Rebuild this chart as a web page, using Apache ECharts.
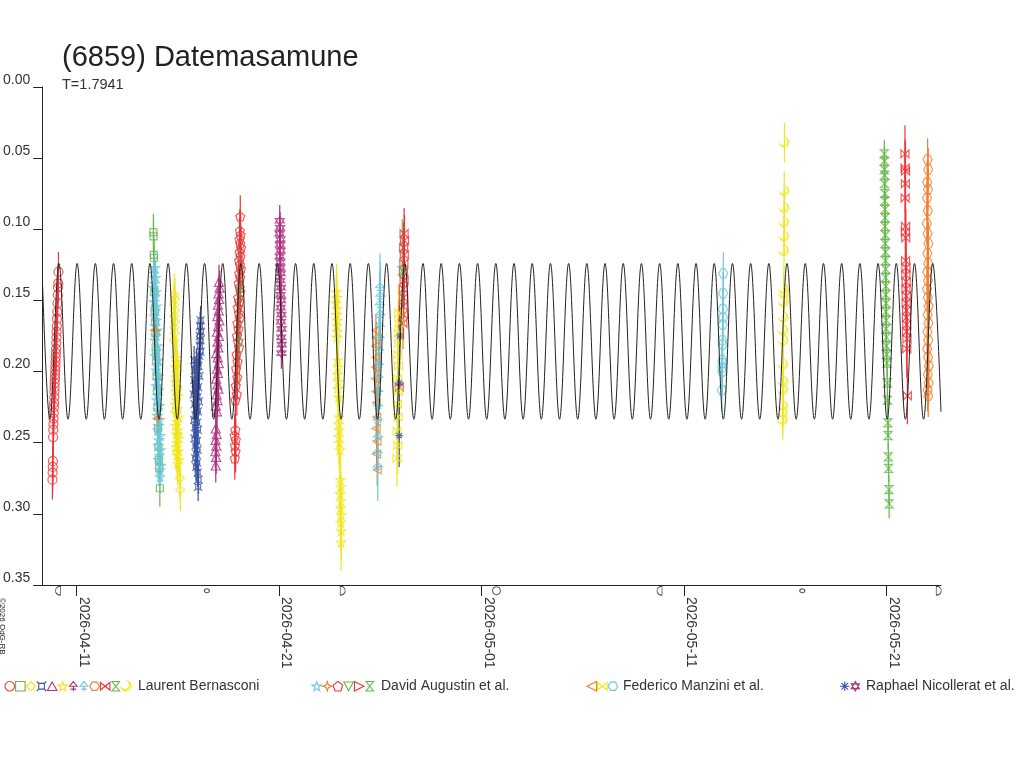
<!DOCTYPE html>
<html>
<head>
<meta charset="utf-8">
<title>(6859) Datemasamune</title>
<script src="https://cdn.jsdelivr.net/npm/echarts@6/dist/echarts.min.js"></script>
<style>
  html, body { margin: 0; padding: 0; background: #fff; }
  #chart { width: 1024px; height: 768px; }
</style>
</head>
<body>
<div id="chart"></div>
<script>
// days are counted from 2026-04-11 00:00, values are relative magnitudes
var tickDays = [0, 10, 20, 30, 40];
var tickLabels = ['2026-04-11', '2026-04-21', '2026-05-01', '2026-05-11', '2026-05-21'];

// fitted curve (extremes)
var curveTop = 0.124;
var curveBottom = 0.2335;
var curveStart = [-1.677, 0.1405];
var curveEnd = [42.68, 0.2283];
var curvePeaks = [-0.873, 0.026, 0.925, 1.823, 2.722, 3.621, 4.520, 5.419, 6.318, 7.216,
    8.115, 9.014, 9.913, 10.811, 11.710, 12.609, 13.508, 14.407, 15.305, 16.204,
    17.103, 18.002, 18.901, 19.799, 20.698, 21.597, 22.496, 23.395, 24.293, 25.192,
    26.091, 26.990, 27.889, 28.787, 29.686, 30.585, 31.484, 32.383, 33.281, 34.180,
    35.079, 35.978, 36.877, 37.775, 38.674, 39.573, 40.472, 41.371, 42.269];
var curveTroughs = [-1.322, -0.424, 0.475, 1.374, 2.272, 3.171, 4.070, 4.969, 5.868, 6.767,
    7.665, 8.564, 9.463, 10.362, 11.260, 12.159, 13.058, 13.957, 14.856, 15.754,
    16.653, 17.552, 18.451, 19.350, 20.248, 21.147, 22.046, 22.945, 23.844, 24.742,
    25.641, 26.540, 27.439, 28.338, 29.236, 30.135, 31.034, 31.933, 32.832, 33.730,
    34.629, 35.528, 36.427, 37.326, 38.224, 39.123, 40.022, 40.921, 41.820];

// moon phases under the axis
var moonDays = [-0.92, 6.43, 13.14, 20.73, 28.78, 35.83, 42.57];
var moonPhases = ['lq', 'new', 'fq', 'full', 'lq', 'new', 'fq'];

// observations [day, mag]
var lbCircle1 = [[-0.898,0.130],[-0.905,0.138],[-0.923,0.141],[-0.930,0.146],[-0.947,0.152],[-0.955,0.158],
    [-0.972,0.163],[-0.980,0.168],[-0.990,0.172],[-0.997,0.176],[-1.005,0.180],[-1.013,0.184],[-1.021,0.187],
    [-1.030,0.190],[-1.038,0.193],[-1.046,0.196],[-1.055,0.199],[-1.063,0.202],[-1.071,0.205],[-1.080,0.208],
    [-1.088,0.211],[-1.095,0.214],[-1.103,0.218],[-1.112,0.222],[-1.120,0.225],[-1.128,0.229],[-1.137,0.233],
    [-1.145,0.237],[-1.153,0.241],[-1.160,0.246],[-1.170,0.263],[-1.178,0.267],[-1.186,0.271],[-1.194,0.276]];
var lbSquare1 = [[3.79,0.102],[3.80,0.105],[3.81,0.118],[3.82,0.120],[3.84,0.144],[3.86,0.157],[3.88,0.165],
    [3.89,0.173],[3.91,0.185],[3.93,0.192],[3.95,0.203],[3.97,0.213],[3.99,0.225],[4.02,0.240],[4.04,0.253],
    [4.06,0.262],[4.08,0.268],[4.11,0.282]];
var daStar1 = [[3.86,0.127],[3.82,0.131],[3.90,0.134],[3.85,0.138],[3.80,0.141],[3.92,0.144],[3.87,0.147],
    [3.83,0.151],[3.95,0.154],[3.89,0.157],[3.84,0.161],[3.93,0.164],[3.88,0.168],[3.97,0.171],[3.91,0.175],
    [3.86,0.178],[3.99,0.182],[3.94,0.185],[3.89,0.189],[4.02,0.192],[3.96,0.196],[3.92,0.199],[4.04,0.203],
    [3.98,0.206],[3.94,0.210],[4.06,0.213],[4.00,0.217],[3.96,0.220],[4.08,0.224],[4.02,0.227],[3.98,0.231],
    [4.10,0.234],[4.04,0.238],[4.00,0.241],[4.12,0.245],[4.06,0.248],[4.02,0.252],[4.14,0.255],[4.08,0.259],
    [4.04,0.262],[4.16,0.266],[4.10,0.269],[4.12,0.274]];
var daSpark1 = [[3.89,0.171],[4.00,0.233]];
var lbDiamond1 = [[4.82,0.146],[4.86,0.149],[4.80,0.153],[4.85,0.157],[4.81,0.161],[4.86,0.165],[4.82,0.169],
    [4.84,0.173],[4.80,0.178],[4.92,0.196],[4.98,0.212],[4.90,0.228],[5.00,0.244],[4.95,0.256],[5.10,0.275],[5.12,0.283]];
var lbStar1 = [[4.90,0.190],[4.95,0.193],[4.88,0.197],[4.97,0.200],[4.91,0.204],[4.86,0.207],[4.96,0.211],
    [4.90,0.214],[5.00,0.217],[4.93,0.220],[4.87,0.223],[4.98,0.226],[4.92,0.229],[5.02,0.232],[4.95,0.235],
    [4.89,0.238],[5.00,0.241],[4.94,0.244],[5.04,0.247],[4.97,0.250],[4.92,0.253],[5.02,0.256],[4.96,0.259],
    [5.05,0.262],[4.99,0.265]];
var lbQuad1 = [[6.12,0.164],[6.10,0.168],[6.13,0.172],[6.08,0.175],[6.11,0.178],[6.09,0.182],[6.12,0.186],
    [6.06,0.189],[5.80,0.192],[5.92,0.194],[6.02,0.196],[5.85,0.199],[5.96,0.201],[6.06,0.203],[5.81,0.206],
    [5.92,0.208],[6.00,0.211],[5.87,0.213],[5.78,0.216],[5.97,0.218],[6.04,0.221],[5.83,0.223],[5.91,0.226],
    [5.99,0.228],[5.87,0.231],[5.80,0.234],[5.95,0.236],[5.85,0.239],[5.99,0.241],[5.89,0.244],[5.82,0.247],
    [5.94,0.249],[5.87,0.252],[5.97,0.255],[5.91,0.258],[5.86,0.261],[5.95,0.264],[5.90,0.267],[5.98,0.271],
    [6.02,0.276],[6.00,0.281]];
var lbTriangle1 = [[7.03,0.137],[7.06,0.141],[7.01,0.145],[7.04,0.149],[6.98,0.153],[7.02,0.157],[6.95,0.161],
    [7.05,0.164],[6.99,0.168],[6.93,0.172],[7.03,0.175],[6.96,0.179],[7.00,0.183],[6.90,0.187],[6.97,0.190],
    [7.02,0.194],[6.93,0.198],[6.98,0.201],[6.89,0.205],[6.95,0.209],[7.00,0.212],[6.91,0.216],[6.96,0.220],
    [6.88,0.224],[6.93,0.228],[6.87,0.240],[6.92,0.244],[6.86,0.248],[6.90,0.252],[6.85,0.256],[6.89,0.260],
    [6.87,0.266]];
var daPentagon1 = [[8.08,0.091],[8.06,0.101],[8.10,0.104],[8.04,0.107],[8.08,0.110],[8.12,0.113],[8.05,0.116],
    [8.09,0.119],[8.02,0.122],[8.07,0.125],[8.11,0.128],[8.03,0.131],[8.08,0.134],[8.00,0.138],[8.05,0.141],
    [8.09,0.144],[7.98,0.148],[8.03,0.151],[7.96,0.155],[8.01,0.159],[8.06,0.162],[7.94,0.166],[7.99,0.170],
    [7.92,0.175],[7.97,0.179],[8.02,0.183],[7.90,0.188],[7.95,0.193],[7.88,0.198],[7.93,0.204],[7.86,0.210],
    [7.91,0.216],[7.84,0.220],[7.84,0.241],[7.80,0.245],[7.86,0.248],[7.82,0.252],[7.85,0.256],[7.81,0.261]];
var daTriDown1 = [[8.06,0.144],[8.03,0.180]];
var rnDavid1 = [[10.03,0.094],[10.05,0.099],[10.02,0.103],[10.06,0.107],[10.04,0.111],[10.07,0.115],[10.03,0.119],
    [10.06,0.123],[10.05,0.127],[10.08,0.131],[10.06,0.136],[10.09,0.141],[10.07,0.146],[10.10,0.150],
    [10.08,0.155],[10.11,0.160],[10.09,0.165],[10.12,0.170],[10.10,0.176],[10.13,0.181],[10.11,0.187]];
var lbStar2 = [[12.83,0.144],[12.85,0.148],[12.82,0.152],[12.86,0.156],[12.84,0.160],[12.87,0.164],[12.85,0.168],
    [12.88,0.172],[12.86,0.176],[12.89,0.192],[12.91,0.197],[12.88,0.202],[12.92,0.207],[12.90,0.212],
    [12.93,0.218],[12.96,0.232],[12.94,0.237],[12.97,0.241],[12.95,0.246],[12.98,0.250],[13.00,0.255],
    [13.02,0.276],[13.04,0.281],[13.01,0.286],[13.05,0.291],[13.03,0.296],[13.06,0.301],[13.04,0.306],
    [13.07,0.312],[13.06,0.320]];
var fmTriLeft1 = [[14.78,0.171],[14.80,0.176],[14.76,0.182],[14.79,0.190],[14.77,0.197],[14.75,0.205],[14.78,0.214],
    [14.80,0.222],[14.82,0.232],[14.79,0.240],[14.83,0.249],[14.81,0.258],[14.84,0.269]];
var lbTrident1 = [[14.98,0.141],[15.00,0.147],[14.97,0.153],[14.99,0.160],[14.96,0.168],[14.95,0.176],[14.93,0.185],
    [14.92,0.195],[14.90,0.204],[14.89,0.214],[14.88,0.224],[14.87,0.234],[14.88,0.246],[14.86,0.257],[14.87,0.267]];
var lbBowtie1 = [[16.17,0.103],[16.19,0.108],[16.15,0.113],[16.18,0.118],[16.16,0.124],[16.14,0.130],[16.17,0.136],
    [16.13,0.142],[16.15,0.148],[16.12,0.154],[16.14,0.160],[16.11,0.166],[15.93,0.211]];
var fmBowtie1 = [[15.90,0.159],[15.93,0.166],[15.88,0.173],[15.91,0.180],[15.86,0.188],[15.89,0.196],[15.85,0.205],
    [15.88,0.214],[15.84,0.223],[15.87,0.232],[15.83,0.242],[15.86,0.252],[15.82,0.261]];
var rnAster1 = [[15.95,0.175],[15.94,0.208],[15.93,0.245]];
var daHour1 = [[16.08,0.129]];
var fmHex1 = [[31.93,0.131],[31.92,0.145],[31.91,0.156],[31.92,0.162],[31.90,0.167],[31.89,0.178],[31.90,0.181],
    [31.88,0.192],[31.89,0.194],[31.87,0.197],[31.88,0.200],[31.86,0.213]];
var lbCrescent1 = [[34.95,0.039],[34.94,0.073],[34.94,0.085],[34.94,0.095],[34.93,0.105],[34.93,0.115],[34.92,0.142],
    [34.92,0.145],[34.91,0.151],[34.91,0.162],[34.90,0.171],[34.90,0.178],[34.89,0.195],[34.89,0.207],
    [34.88,0.213],[34.88,0.224],[34.87,0.229],[34.87,0.234]];
var lbHour1 = [[39.88,0.047],[39.89,0.052],[39.88,0.058],[39.90,0.062],[39.89,0.068],[39.91,0.075],[39.90,0.080],
    [39.91,0.086],[39.92,0.092],[39.91,0.098],[39.93,0.104],[39.92,0.110],[39.94,0.116],[39.93,0.122],
    [39.95,0.128],[39.94,0.134],[39.96,0.140],[39.95,0.146],[39.97,0.152],[39.96,0.158],[39.98,0.164],
    [39.97,0.170],[39.99,0.176],[39.98,0.182],[40.00,0.188],[40.01,0.194],[40.03,0.208],[40.04,0.220],
    [40.06,0.236],[40.07,0.245],[40.08,0.260],[40.09,0.268],[40.11,0.283],[40.12,0.293]];
var lbBowtie2 = [[40.90,0.047],[40.91,0.057],[40.93,0.059],[40.92,0.068],[40.91,0.078],[40.93,0.098],[40.92,0.102],
    [40.94,0.106],[40.93,0.122],[40.95,0.127],[40.94,0.132],[40.96,0.137],[40.95,0.142],[40.97,0.147],
    [40.96,0.152],[40.98,0.157],[40.97,0.162],[40.99,0.167],[40.98,0.172],[41.00,0.177],[40.99,0.184],[41.02,0.217]];
var lbHex1 = [[42.02,0.051],[42.05,0.058],[42.00,0.067],[42.04,0.072],[41.99,0.078],[42.03,0.087],[41.98,0.096],
    [42.02,0.103],[42.06,0.110],[42.01,0.117],[42.05,0.124],[42.00,0.130],[42.04,0.136],[41.99,0.142],
    [42.03,0.148],[42.07,0.154],[42.02,0.160],[42.06,0.166],[42.01,0.172],[42.05,0.178],[42.00,0.184],
    [42.04,0.190],[42.08,0.196],[42.03,0.202],[42.07,0.208],[42.02,0.213],[42.05,0.217]];

var red = '#ee3338', green = '#66b84a', yellow = '#f0e61e', blue = '#3a52a2',
    purple = '#b0307e', cyan = '#6cc8dc', orange = '#f07f2e';

// symbol outlines in a 10x10 box
var shapes = {
    circle: 'M0,5A5,5 0 1 1 10,5A5,5 0 1 1 0,5Z',
    square: 'M0,0L10,0L10,10L0,10Z',
    diamond: 'M5,0L10,5L5,10L0,5Z',
    triangle: 'M5,0L10,9L0,9Z',
    triDown: 'M0,0L10,0L5,9Z',
    triLeft: 'M10,0L10,10L0,5Z',
    triRight: 'M0,0L10,5L0,10Z',
    pentagon: 'M5,0L10,3.8L8.1,10L1.9,10L0,3.8Z',
    hexagon: 'M2.5,0.7L7.5,0.7L10,5L7.5,9.3L2.5,9.3L0,5Z',
    star: 'M5,0L6.2,3.6L10,3.6L6.9,5.9L8.1,9.5L5,7.3L1.9,9.5L3.1,5.9L0,3.6L3.8,3.6Z',
    spark: 'M5,0L6.2,3.8L10,5L6.2,6.2L5,10L3.8,6.2L0,5L3.8,3.8Z',
    bowtie: 'M0,1L10,9L10,1L0,9Z',
    hourglass: 'M1,0L9,0L1,10L9,10Z',
    quad: 'M2,2L8,2L8,8L2,8Z M0,0L2,2 M10,0L8,2 M0,10L2,8 M10,10L8,8',
    aster: 'M5,0L5,10 M0,5L10,5 M1.5,1.5L8.5,8.5 M8.5,1.5L1.5,8.5',
    david: 'M5,0L9.3,7.5L0.7,7.5Z M5,10L0.7,2.5L9.3,2.5Z',
    trident: 'M5,0L9,5L1,5Z M5,5L5,10 M2,8L8,8',
    crescent: 'M10,2A6,6 0 1 1 2,10A4.5,4.5 0 1 0 10,2Z'
};

var sessions = [
    {data: lbCircle1, shape: 'circle', color: red, err: 0.014, size: 9},
    {data: lbSquare1, shape: 'square', color: green, err: 0.013, size: 7},
    {data: daStar1, shape: 'star', color: cyan, err: 0.012, size: 9},
    {data: daSpark1, shape: 'spark', color: orange, err: 0.012, size: 9},
    {data: lbDiamond1, shape: 'diamond', color: yellow, err: 0.015, size: 9},
    {data: lbStar1, shape: 'star', color: yellow, err: 0.015, size: 9},
    {data: lbQuad1, shape: 'quad', color: blue, err: 0.010, size: 8},
    {data: lbTriangle1, shape: 'triangle', color: purple, err: 0.012, size: 9},
    {data: daPentagon1, shape: 'pentagon', color: red, err: 0.015, size: 9},
    {data: daTriDown1, shape: 'triDown', color: green, err: 0.03, size: 8},
    {data: rnDavid1, shape: 'david', color: purple, err: 0.011, size: 9},
    {data: lbStar2, shape: 'star', color: yellow, err: 0.02, size: 9},
    {data: fmTriLeft1, shape: 'triLeft', color: orange, err: 0.011, size: 8},
    {data: lbTrident1, shape: 'trident', color: cyan, err: 0.024, size: 9},
    {data: lbBowtie1, shape: 'bowtie', color: red, err: 0.018, size: 8},
    {data: fmBowtie1, shape: 'bowtie', color: yellow, err: 0.02, size: 8},
    {data: rnAster1, shape: 'aster', color: blue, err: 0.022, size: 8},
    {data: daHour1, shape: 'hourglass', color: green, err: 0.036, size: 8},
    {data: fmHex1, shape: 'hexagon', color: cyan, err: 0.015, size: 9},
    {data: lbCrescent1, shape: 'crescent', color: yellow, err: 0.014, size: 9},
    {data: lbHour1, shape: 'hourglass', color: green, err: 0.010, size: 8},
    {data: lbBowtie2, shape: 'bowtie', color: red, err: 0.02, size: 8},
    {data: lbHex1, shape: 'hexagon', color: orange, err: 0.015, size: 9}
];

var legendGroups = [
    {name: 'Laurent Bernasconi', x: 5, textX: 138,
        items: [['circle', red], ['square', green], ['diamond', yellow], ['quad', blue], ['triangle', purple],
            ['star', yellow], ['trident', purple], ['trident', cyan], ['hexagon', orange], ['bowtie', red],
            ['hourglass', green], ['crescent', yellow]]},
    {name: 'David Augustin et al.', x: 312, textX: 381,
        items: [['star', cyan], ['spark', orange], ['pentagon', red], ['triDown', green], ['triRight', red], ['hourglass', green]]},
    {name: 'Federico Manzini et al.', x: 587, textX: 623,
        items: [['triLeft', orange], ['bowtie', yellow], ['hexagon', cyan]]},
    {name: 'Raphael Nicollerat et al.', x: 840, textX: 866,
        items: [['aster', blue], ['david', purple]]}
];

var fontName = 'Liberation Sans, Arial, sans-serif';

function curveData() {
    var pts = [curveStart];
    var all = [];
    curvePeaks.forEach(function (d) { all.push([d, curveTop]); });
    curveTroughs.forEach(function (d) { all.push([d, curveBottom]); });
    all.sort(function (a, b) { return a[0] - b[0]; });
    pts = pts.concat(all);
    pts.push(curveEnd);
    return pts;
}

function tickLabel(v) {
    for (var i = 0; i < tickDays.length; i++) {
        if (Math.abs(tickDays[i] - v) < 1e-6) return tickLabels[i];
    }
    return '';
}

//误差线
function errSeries(s) {
    return {
        type: 'custom',
        data: s.data,
        z: 2,
        silent: true,
        renderItem: function (params, api) {
            var d = api.value(0), m = api.value(1);
            var p1 = api.coord([d, m - s.err]);
            var p2 = api.coord([d, m + s.err]);
            return {
                type: 'line',
                shape: {x1: p1[0], y1: p1[1], x2: p2[0], y2: p2[1]},
                style: {stroke: s.color, lineWidth: 1.2}
            };
        }
    };
}

function pointSeries(s) {
    return {
        type: 'scatter',
        data: s.data,
        z: 3,
        symbol: 'path://' + shapes[s.shape],
        symbolSize: s.size,
        itemStyle: {color: 'rgba(0,0,0,0)', borderColor: s.color, borderWidth: 1.2}
    };
}

function moonSeries() {
    var moonShapes = {
        lq: ['path://M5,0A5,5 0 0 0 5,10Z', [5, 9]],
        fq: ['path://M0,0A5,5 0 0 1 0,10Z', [5, 9]],
        full: ['path://' + shapes.circle, [8, 8]],
        'new': ['path://' + shapes.circle, [5, 4]]
    };
    var data = moonDays.map(function (d, i) {
        var ms = moonShapes[moonPhases[i]];
        return {value: [d, 0.354], symbol: ms[0], symbolSize: ms[1]};
    });
    return {
        type: 'scatter',
        data: data,
        clip: false,
        silent: true,
        z: 3,
        itemStyle: {color: '#fff', borderColor: '#222', borderWidth: 1}
    };
}

//图例符号 (custom series, no coordinate system)
function legendSeries() {
    return {
        type: 'custom',
        coordinateSystem: 'none',
        silent: true,
        data: [0],
        renderItem: function () {
            var children = [];
            legendGroups.forEach(function (g) {
                g.items.forEach(function (it, i) {
                    children.push({
                        type: 'path',
                        shape: {pathData: shapes[it[0]], x: g.x + i * 10.6, y: 681.5, width: 9.5, height: 9.5, layout: 'center'},
                        style: {fill: 'none', stroke: it[1], lineWidth: 1.1}
                    });
                });
            });
            return {type: 'group', children: children};
        }
    };
}

function legendTexts() {
    var els = legendGroups.map(function (g) {
        return {
            type: 'text', x: g.textX, y: 686,
            style: {text: g.name, fill: '#333', font: '14px ' + fontName, verticalAlign: 'middle'}
        };
    });
    els.push({
        type: 'text', x: 2, y: 598, rotation: -Math.PI / 2,
        style: {text: '©2026 OdG-RB', fill: '#222', font: '8px ' + fontName, verticalAlign: 'middle'}
    });
    return els;
}

var myChart = echarts.init(document.getElementById('chart'));

var series = [];
sessions.forEach(function (s) {
    series.push(errSeries(s));
    series.push(pointSeries(s));
});
series.push({
    type: 'line',
    data: curveData(),
    smooth: 0.37,
    showSymbol: false,
    silent: true,
    z: 5,
    lineStyle: {color: '#222', width: 1}
});
series.push(moonSeries());
series.push(legendSeries());

var option = {
    animation: false,
    backgroundColor: '#fff',
    textStyle: {fontFamily: fontName},
    title: {
        text: '(6859) Datemasamune',
        subtext: 'T=1.7941',
        left: 57,
        top: 38,
        itemGap: 5,
        textStyle: {fontSize: 29, fontWeight: 'normal', color: '#222', fontFamily: fontName},
        subtextStyle: {fontSize: 14.5, color: '#333', fontFamily: fontName}
    },
    grid: {left: 42, top: 87, right: 83, bottom: 183},
    xAxis: {
        type: 'value',
        min: -1.697,
        max: 42.68,
        splitLine: {show: false},
        axisLine: {onZero: false, lineStyle: {color: '#222', width: 1}},
        axisTick: {show: true, length: 11, lineStyle: {color: '#222'}, customValues: tickDays},
        axisLabel: {
            customValues: tickDays,
            rotate: -90,
            margin: 12,
            fontSize: 14,
            color: '#333',
            fontFamily: fontName,
            verticalAlign: 'bottom',
            formatter: tickLabel
        }
    },
    yAxis: {
        type: 'value',
        inverse: true,
        min: 0,
        max: 0.35,
        interval: 0.05,
        splitLine: {show: false},
        axisLine: {show: true, onZero: false, lineStyle: {color: '#222', width: 1}},
        axisTick: {show: true, length: 9, lineStyle: {color: '#222'}},
        axisLabel: {
            margin: 12,
            fontSize: 14,
            color: '#333',
            fontFamily: fontName,
            verticalAlign: 'bottom',
            formatter: function (v) { return v.toFixed(2); }
        }
    },
    graphic: legendTexts(),
    series: series
};
myChart.setOption(option);
</script>
</body>
</html>
